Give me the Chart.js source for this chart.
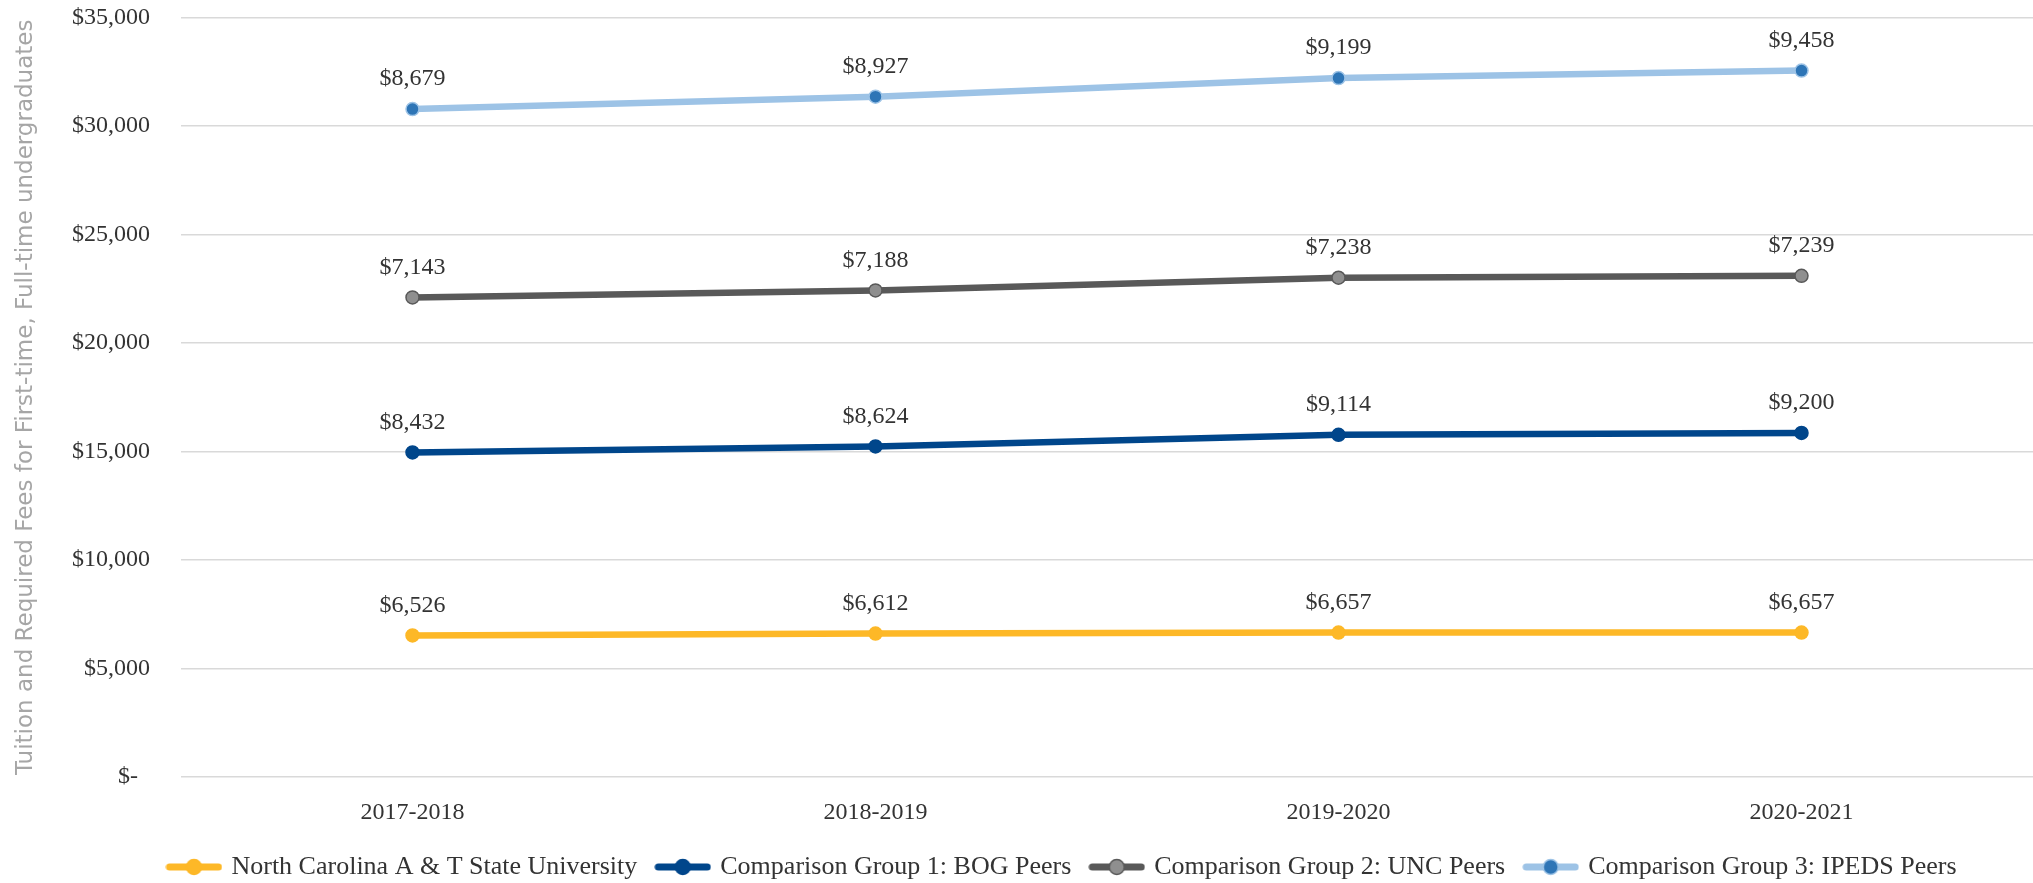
<!DOCTYPE html>
<html>
<head>
<meta charset="utf-8">
<script src="https://cdn.jsdelivr.net/npm/chart.js@4.4.1/dist/chart.umd.min.js"></script>
<style>
  html, body { margin: 0; padding: 0; width: 2033px; height: 883px; overflow: hidden; background: #fff; }
  #wrap { position: absolute; left: 0; top: 0; width: 2041px; height: 890px; }
</style>
</head>
<body>
<div id="wrap"><canvas id="tuitionChart"></canvas></div>
<script>
// --- DATA ---
const years = ['2017-2018', '2018-2019', '2019-2020', '2020-2021'];
const ncatFees  = [6526, 6612, 6657, 6657];   // North Carolina A & T
const bogFees   = [8432, 8624, 9114, 9200];   // Group 1: BOG Peers
const uncFees   = [7143, 7188, 7238, 7239];   // Group 2: UNC Peers
const ipedsFees = [8679, 8927, 9199, 9458];   // Group 3: IPEDS Peers
const yMin = 0, yMax = 35000, yStep = 5000;

const serif = "'Liberation Serif', 'Times New Roman', serif";
const textColor = '#333333';

function money(v) {
    if (v === 0) return '$-  ';
    return '$' + v.toLocaleString('en-US');
}

// small legend marker: line with a dot in the middle
function legendMarker(lineColor, fill, border) {
    const c = document.createElement('canvas');
    c.width = 57; c.height = 18;
    const g = c.getContext('2d');
    g.strokeStyle = lineColor; g.lineWidth = 7; g.lineCap = 'round';
    g.beginPath(); g.moveTo(4, 9); g.lineTo(53, 9); g.stroke();
    g.beginPath(); g.arc(28.5, 9, 7.5, 0, Math.PI * 2);
    g.fillStyle = fill; g.fill();
    g.lineWidth = 1.5; g.strokeStyle = border; g.stroke();
    return c;
}

function series(label, data, line, fill, border) {
    return {
        label: label, data: data,
        borderColor: line, borderWidth: 6.5,
        pointRadius: 6.5, pointHoverRadius: 6.5,
        pointBackgroundColor: fill, pointBorderColor: border, pointBorderWidth: 1.5,
        tension: 0, fill: false,
        marker: legendMarker(line, fill, border)
    };
}

// value labels above each point (the raw, un-stacked value)
const valueLabels = {
    id: 'valueLabels',
    afterDatasetsDraw(chart) {
        const ctx = chart.ctx;
        ctx.save();
        ctx.font = '24px ' + serif;
        ctx.fillStyle = textColor;
        ctx.textAlign = 'center';
        ctx.textBaseline = 'middle';
        chart.data.datasets.forEach((ds, i) => {
            chart.getDatasetMeta(i).data.forEach((pt, j) => {
                ctx.fillText(money(ds.data[j]), pt.x, pt.y - 30);
            });
        });
        ctx.restore();
    }
};

// nudge the legend row to the right, as in the original layout
const legendShift = {
    id: 'legendShift',
    afterLayout(chart) {
        chart.legend.left += 43;
        chart.legend.right += 43;
    }
};

new Chart(document.getElementById('tuitionChart'), {
    type: 'line',
    data: {
        labels: years,
        datasets: [
            series('North Carolina A & T State University', ncatFees, '#FDB827', '#FDB827', '#FDB827'),
            series('Comparison Group 1: BOG Peers', bogFees, '#00468B', '#00468B', '#00468B'),
            series('Comparison Group 2: UNC Peers', uncFees, '#595959', '#8F8F8F', '#595959'),
            series('Comparison Group 3: IPEDS Peers', ipedsFees, '#9DC3E6', '#2E75B6', '#9DC3E6')
        ]
    },
    options: {
        responsive: true,
        maintainAspectRatio: false,
        animation: false,
        layout: { padding: { top: 17.5, right: 1, left: 0, bottom: 0 } },
        plugins: {
            tooltip: { enabled: false },
            legend: {
                position: 'bottom',
                labels: {
                    usePointStyle: true,
                    pointStyleWidth: 49,
                    padding: 21,
                    color: textColor,
                    font: { family: serif, size: 26 },
                    generateLabels(chart) {
                        return chart.data.datasets.map((ds, i) => ({
                            text: ds.label,
                            pointStyle: ds.marker,
                            fillStyle: ds.borderColor,
                            strokeStyle: ds.borderColor,
                            lineWidth: 0,
                            fontColor: textColor,
                            hidden: false,
                            datasetIndex: i
                        }));
                    }
                }
            }
        },
        scales: {
            x: {
                offset: true,
                afterFit(scale) { scale.height = 56; },
                grid: { display: false, drawTicks: false },
                border: { display: false },
                ticks: { padding: 21, color: textColor, font: { family: serif, size: 24 } }
            },
            y: {
                stacked: true,
                min: yMin, max: yMax,
                afterFit(scale) { scale.width = 181; },
                grid: { color: '#D9D9D9', lineWidth: 1.5, drawTicks: true, tickLength: 31, tickColor: 'rgba(0,0,0,0)' },
                border: { display: false },
                ticks: {
                    stepSize: yStep,
                    padding: 0,
                    color: textColor,
                    font: { family: serif, size: 24 },
                    callback: (v) => money(v)
                },
                title: {
                    display: true,
                    text: 'Tuition and Required Fees for First-time, Full-time undergraduates',
                    color: '#A6A6A6',
                    font: { family: "'DejaVu Sans ExtraLight', 'DejaVu Sans', sans-serif", size: 23 },
                    padding: { top: 12, bottom: 0 }
                }
            }
        }
    },
    plugins: [valueLabels, legendShift]
});
</script>
</body>
</html>
